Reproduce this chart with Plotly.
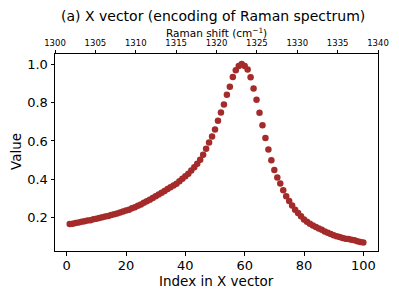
import plotly.graph_objects as go

index = list(range(1, 101))
values = [
    0.168, 0.170, 0.173, 0.176, 0.180, 0.182, 0.186, 0.188, 0.193, 0.195,
    0.199, 0.203, 0.207, 0.210, 0.215, 0.219, 0.223, 0.228, 0.233, 0.238,
    0.243, 0.250, 0.256, 0.263, 0.270, 0.279, 0.287, 0.295, 0.304, 0.313,
    0.322, 0.331, 0.340, 0.350, 0.360, 0.368, 0.378, 0.390, 0.403, 0.417,
    0.430, 0.446, 0.463, 0.482, 0.502, 0.528, 0.560, 0.592, 0.623, 0.660,
    0.705, 0.748, 0.790, 0.840, 0.882, 0.932, 0.968, 0.990, 1.000, 0.990,
    0.972, 0.931, 0.873, 0.814, 0.746, 0.682, 0.616, 0.556, 0.500, 0.449,
    0.410, 0.379, 0.344, 0.312, 0.288, 0.264, 0.243, 0.225, 0.208, 0.192,
    0.180, 0.170, 0.161, 0.153, 0.145, 0.138, 0.129, 0.123, 0.116, 0.110,
    0.105, 0.101, 0.096, 0.092, 0.090, 0.087, 0.084, 0.079, 0.075, 0.072,
]
bottom_ticks = [0, 20, 40, 60, 80, 100]
top_ticks = [1300, 1305, 1310, 1315, 1320, 1325, 1330, 1335, 1340]
y_ticks = [0.2, 0.4, 0.6, 0.8, 1.0]

FONT = "DejaVu Sans"
W, H = 399, 299
ML, MR, MT, MB = 55, 21, 54, 48
PH = H - MT - MB


def paper_y(py):
    return (H - MB - py) / PH


fig = go.Figure()
fig.add_trace(go.Scatter(
    x=index, y=values, mode="markers",
    marker=dict(color="#A52A2A", size=6.5, line=dict(width=0)),
    showlegend=False,
))
# invisible helper trace so the top (Raman shift) axis is drawn
fig.add_trace(go.Scatter(
    x=top_ticks, y=[None] * len(top_ticks), xaxis="x2", mode="markers",
    showlegend=False, hoverinfo="skip",
))

axis_common = dict(
    showline=True, linecolor="black", linewidth=1,
    ticks="outside", ticklen=3.5, tickwidth=1, tickcolor="black",
    showgrid=False, zeroline=False, automargin=False,
)

fig.update_layout(
    width=W, height=H,
    margin=dict(l=ML, r=MR, t=MT, b=MB, autoexpand=False),
    paper_bgcolor="white", plot_bgcolor="white",
    font=dict(family=FONT, color="black"),
    xaxis=dict(
        **axis_common,
        range=[-3.95, 104.95],
        tickvals=bottom_ticks,
        tickfont=dict(size=13),
        ticklabelstandoff=-1,
    ),
    xaxis2=dict(
        **axis_common,
        overlaying="x", side="top",
        range=[1300, 1340],
        tickvals=top_ticks,
        tickfont=dict(size=8.5),
    ),
    yaxis=dict(
        **axis_common,
        mirror=True,
        range=[0.028, 1.052],
        tickvals=y_ticks,
        ticktext=["0.2", "0.4", "0.6", "0.8", "1.0"],
        tickfont=dict(size=13),
    ),
    annotations=[
        dict(text="(a) X vector (encoding of Raman spectrum)",
             xref="paper", yref="paper", x=0.49, y=paper_y(16),
             xanchor="center", yanchor="middle", showarrow=False,
             font=dict(size=14)),
        dict(text="Raman shift (cm<sup>−1</sup>)",
             xref="paper", yref="paper", x=0.5, y=paper_y(32),
             xanchor="center", yanchor="middle", showarrow=False,
             font=dict(size=10.5)),
        dict(text="Index in X vector",
             xref="paper", yref="paper", x=0.5, y=paper_y(281),
             xanchor="center", yanchor="middle", showarrow=False,
             font=dict(size=13.5)),
        dict(text="Value",
             xref="paper", yref="paper", x=(16 - ML) / (W - ML - MR),
             y=paper_y(152), textangle=-90,
             xanchor="center", yanchor="middle", showarrow=False,
             font=dict(size=13.5)),
    ],
)

fig.write_html(
    "out.html",
    config={"displayModeBar": False},
    post_script="document.body.style.margin='0';document.body.style.overflow='hidden';",
)
